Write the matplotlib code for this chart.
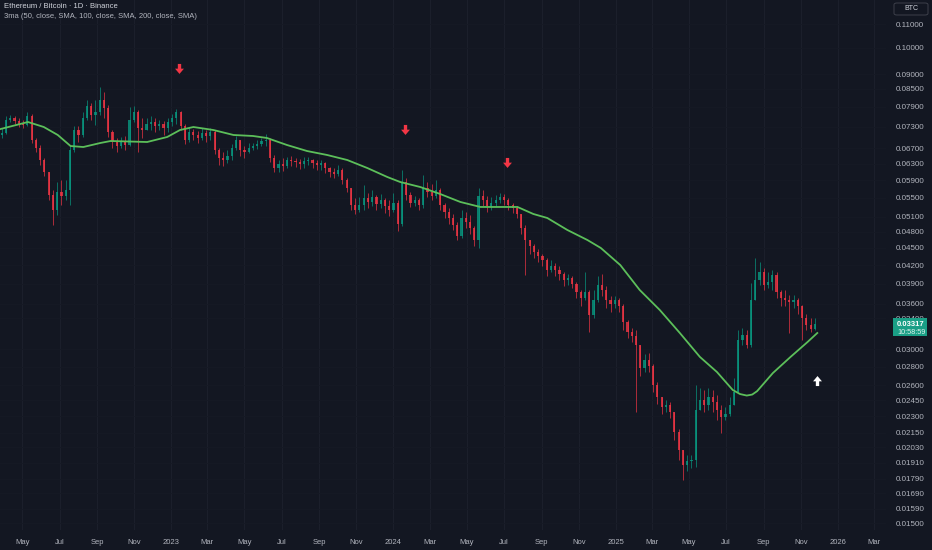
import numpy as np
import pandas as pd
import matplotlib
matplotlib.use("Agg")
import matplotlib.pyplot as plt
from matplotlib.path import Path
from matplotlib.patches import Rectangle, FancyBboxPatch
from matplotlib.ticker import NullLocator

plt.rcParams['font.family'] = ['Liberation Sans', 'DejaVu Sans']

# ETH/BTC, weekly candles (open = previous close)
first_open = 0.0706
closes = [0.0712, 0.0750, 0.0756, 0.0747, 0.0738, 0.0735, 0.0762, 0.0692, 0.0671, 0.0639,
          0.0609, 0.0556, 0.0524, 0.0563, 0.0554, 0.0567, 0.0665, 0.0721, 0.0706, 0.0756,
          0.0793, 0.0765, 0.0774, 0.0812, 0.0787, 0.0715, 0.0687, 0.0676, 0.0690, 0.0679,
          0.0750, 0.0774, 0.0726, 0.0721, 0.0738, 0.0744, 0.0732, 0.0738, 0.0726, 0.0744,
          0.0756, 0.0774, 0.0732, 0.0692, 0.0715, 0.0706, 0.0698, 0.0712, 0.0704, 0.0715,
          0.0665, 0.0644, 0.0639, 0.0650, 0.0671, 0.0692, 0.0665, 0.0660, 0.0671, 0.0676,
          0.0681, 0.0690, 0.0692, 0.0644, 0.0619, 0.0629, 0.0624, 0.0639, 0.0637, 0.0634,
          0.0629, 0.0637, 0.0639, 0.0632, 0.0627, 0.0632, 0.0619, 0.0609, 0.0604, 0.0614,
          0.0590, 0.0572, 0.0534, 0.0524, 0.0534, 0.0549, 0.0541, 0.0551, 0.0536, 0.0545,
          0.0532, 0.0524, 0.0539, 0.0495, 0.0585, 0.0556, 0.0539, 0.0545, 0.0534, 0.0572,
          0.0563, 0.0554, 0.0567, 0.0534, 0.0519, 0.0507, 0.0493, 0.0472, 0.0507, 0.0499,
          0.0487, 0.0464, 0.0554, 0.0545, 0.0532, 0.0539, 0.0545, 0.0551, 0.0545, 0.0534,
          0.0528, 0.0515, 0.0487, 0.0464, 0.0454, 0.0443, 0.0436, 0.0429, 0.0412, 0.0419,
          0.0412, 0.0405, 0.0396, 0.0399, 0.0390, 0.0377, 0.0368, 0.0377, 0.0344, 0.0366,
          0.0388, 0.0380, 0.0366, 0.0360, 0.0366, 0.0357, 0.0335, 0.0322, 0.0317, 0.0305,
          0.0279, 0.0288, 0.0281, 0.0260, 0.0248, 0.0238, 0.0240, 0.0234, 0.0216, 0.0201,
          0.0189, 0.0192, 0.0193, 0.0236, 0.0245, 0.0240, 0.0248, 0.0243, 0.0236, 0.0229,
          0.0232, 0.0240, 0.0253, 0.0312, 0.0318, 0.0305, 0.0366, 0.0396, 0.0409, 0.0388,
          0.0393, 0.0404, 0.0377, 0.0368, 0.0366, 0.0363, 0.0366, 0.0357, 0.0340, 0.0331,
          0.0326, 0.03317]
highs = [0.0726, 0.0762, 0.0765, 0.0762, 0.0756, 0.0750, 0.0774, 0.0768, 0.0698, 0.0679,
         0.0644, 0.0609, 0.0567, 0.0585, 0.0590, 0.0590, 0.0679, 0.0732, 0.0732, 0.0774,
         0.0812, 0.0803, 0.0812, 0.0855, 0.0838, 0.0796, 0.0721, 0.0698, 0.0701, 0.0704,
         0.0790, 0.0793, 0.0780, 0.0756, 0.0756, 0.0762, 0.0756, 0.0750, 0.0747, 0.0756,
         0.0768, 0.0783, 0.0777, 0.0738, 0.0729, 0.0724, 0.0718, 0.0726, 0.0721, 0.0726,
         0.0721, 0.0671, 0.0660, 0.0665, 0.0681, 0.0704, 0.0692, 0.0676, 0.0684, 0.0684,
         0.0692, 0.0698, 0.0709, 0.0698, 0.0652, 0.0639, 0.0644, 0.0647, 0.0650, 0.0644,
         0.0642, 0.0647, 0.0647, 0.0642, 0.0639, 0.0639, 0.0634, 0.0622, 0.0619, 0.0627,
         0.0619, 0.0595, 0.0572, 0.0549, 0.0551, 0.0578, 0.0560, 0.0567, 0.0556, 0.0558,
         0.0549, 0.0545, 0.0560, 0.0545, 0.0614, 0.0595, 0.0563, 0.0554, 0.0549, 0.0602,
         0.0585, 0.0581, 0.0590, 0.0572, 0.0539, 0.0528, 0.0515, 0.0499, 0.0524, 0.0519,
         0.0513, 0.0491, 0.0572, 0.0567, 0.0554, 0.0551, 0.0556, 0.0560, 0.0558, 0.0549,
         0.0539, 0.0532, 0.0515, 0.0493, 0.0464, 0.0457, 0.0448, 0.0439, 0.0432, 0.0429,
         0.0424, 0.0419, 0.0409, 0.0405, 0.0402, 0.0393, 0.0380, 0.0409, 0.0380, 0.0380,
         0.0402, 0.0405, 0.0386, 0.0371, 0.0371, 0.0368, 0.0360, 0.0338, 0.0327, 0.0324,
         0.0305, 0.0295, 0.0296, 0.0283, 0.0264, 0.0248, 0.0245, 0.0243, 0.0234, 0.0218,
         0.0201, 0.0197, 0.0197, 0.0260, 0.0257, 0.0255, 0.0257, 0.0255, 0.0250, 0.0240,
         0.0238, 0.0248, 0.0268, 0.0324, 0.0327, 0.0324, 0.0391, 0.0432, 0.0425, 0.0415,
         0.0409, 0.0412, 0.0409, 0.0380, 0.0380, 0.0373, 0.0373, 0.0368, 0.0358, 0.0345,
         0.0340, 0.0340]
lows = [0.0698, 0.0709, 0.0744, 0.0738, 0.0729, 0.0726, 0.0732, 0.0684, 0.0660, 0.0627,
        0.0600, 0.0545, 0.0493, 0.0513, 0.0534, 0.0545, 0.0534, 0.0660, 0.0687, 0.0701,
        0.0750, 0.0750, 0.0735, 0.0765, 0.0756, 0.0701, 0.0671, 0.0660, 0.0671, 0.0665,
        0.0676, 0.0744, 0.0660, 0.0698, 0.0721, 0.0721, 0.0715, 0.0721, 0.0706, 0.0715,
        0.0732, 0.0738, 0.0721, 0.0681, 0.0687, 0.0692, 0.0684, 0.0692, 0.0687, 0.0692,
        0.0655, 0.0627, 0.0624, 0.0632, 0.0639, 0.0665, 0.0650, 0.0644, 0.0657, 0.0665,
        0.0668, 0.0676, 0.0676, 0.0634, 0.0609, 0.0609, 0.0612, 0.0619, 0.0624, 0.0622,
        0.0617, 0.0619, 0.0627, 0.0619, 0.0614, 0.0614, 0.0607, 0.0597, 0.0595, 0.0600,
        0.0581, 0.0563, 0.0524, 0.0515, 0.0519, 0.0524, 0.0528, 0.0532, 0.0524, 0.0528,
        0.0517, 0.0511, 0.0519, 0.0481, 0.0491, 0.0545, 0.0530, 0.0532, 0.0524, 0.0528,
        0.0551, 0.0545, 0.0549, 0.0524, 0.0507, 0.0495, 0.0483, 0.0464, 0.0468, 0.0487,
        0.0476, 0.0454, 0.0450, 0.0532, 0.0519, 0.0524, 0.0532, 0.0539, 0.0534, 0.0524,
        0.0517, 0.0507, 0.0476, 0.0404, 0.0439, 0.0432, 0.0425, 0.0419, 0.0402, 0.0409,
        0.0402, 0.0396, 0.0387, 0.0388, 0.0384, 0.0368, 0.0357, 0.0366, 0.0322, 0.0340,
        0.0363, 0.0371, 0.0354, 0.0349, 0.0354, 0.0349, 0.0324, 0.0314, 0.0309, 0.0234,
        0.0270, 0.0274, 0.0274, 0.0253, 0.0241, 0.0232, 0.0234, 0.0228, 0.0209, 0.0193,
        0.0178, 0.0185, 0.0187, 0.0188, 0.0236, 0.0234, 0.0236, 0.0234, 0.0226, 0.0215,
        0.0226, 0.0230, 0.0241, 0.0253, 0.0305, 0.0302, 0.0303, 0.0377, 0.0388, 0.0380,
        0.0384, 0.0380, 0.0368, 0.0357, 0.0357, 0.0320, 0.0354, 0.0346, 0.0312, 0.0324,
        0.0322, 0.0324]
week_start = "2022-03-28"

# 200-day SMA
sma_dates = ["2022-03-26", "2022-05-10", "2022-06-05", "2022-06-28", "2022-07-19", "2022-08-09",
             "2022-09-06", "2022-09-23", "2022-11-22", "2022-12-25", "2023-01-15", "2023-02-06",
             "2023-03-11", "2023-04-13", "2023-05-15", "2023-06-07", "2023-07-10", "2023-08-12",
             "2023-09-14", "2023-10-17", "2023-11-19", "2023-12-22", "2024-01-12", "2024-02-14",
             "2024-03-18", "2024-04-20", "2024-05-23", "2024-06-25", "2024-07-23", "2024-08-18",
             "2024-09-10", "2024-10-13", "2024-11-15", "2024-12-07", "2025-01-08", "2025-02-09",
             "2025-03-14", "2025-04-16", "2025-05-19", "2025-06-16", "2025-07-12", "2025-07-24",
             "2025-08-04", "2025-08-13", "2025-08-21", "2025-09-16", "2025-10-15", "2025-11-12",
             "2025-11-28"]
sma_values = [0.07234, 0.07439, 0.07292, 0.07063, 0.06759, 0.06732,
              0.06841, 0.06896, 0.06868, 0.07007, 0.07205, 0.07292,
              0.07205, 0.07063, 0.07035, 0.06979, 0.06786, 0.06625,
              0.06521, 0.06392, 0.06191, 0.05972, 0.05855, 0.05739,
              0.05580, 0.05406, 0.05299, 0.05299, 0.05299, 0.05153,
              0.05071, 0.04834, 0.04644, 0.04499, 0.04203, 0.03804,
              0.03512, 0.03204, 0.02912, 0.02742, 0.02552, 0.02511,
              0.02496, 0.02506, 0.02540, 0.02731, 0.02912, 0.03091,
              0.03204]

# signal arrows
sell_dates = ["2023-01-14", "2024-01-20", "2024-07-06"]
sell_prices = [0.0919, 0.0721, 0.0631]
buy_dates = ["2025-11-27"]
buy_prices = [0.0266]

price_ticks = [0.11, 0.10, 0.09, 0.085, 0.079, 0.073, 0.067, 0.063, 0.059, 0.055,
               0.051, 0.048, 0.045, 0.042, 0.039, 0.036, 0.034, 0.030, 0.028, 0.026,
               0.0245, 0.023, 0.0215, 0.0203, 0.0191, 0.0179, 0.0169, 0.0159, 0.0150]
last_price = 0.03317
countdown = "10:58:59"

BG = '#131722'
UP = '#089981'
DOWN = '#f23645'
TXT = '#b2b5be'

weeks = pd.date_range(week_start, periods=len(closes), freq="7D")
c = np.array(closes)
o = np.concatenate([[first_open], c[:-1]])
h = np.maximum(np.array(highs), np.maximum(o, c))
l = np.minimum(np.array(lows), np.minimum(o, c))
up = c >= o
col = np.where(up, UP, DOWN)

W, H = 932, 550
fig = plt.figure(figsize=(W / 100, H / 100), dpi=100, facecolor=BG)
ax_l, ax_b, ax_w, ax_h = 0, 20 / H, 886 / W, 530 / H
ax = fig.add_axes([ax_l, ax_b, ax_w, ax_h], facecolor=BG)
ax.set_yscale('log')
ymin, ymax = 0.014593, 0.12107
ax.set_ylim(ymin, ymax)
ax.set_xlim(pd.Timestamp("2022-03-25"), pd.Timestamp("2026-03-21"))
for s in ax.spines.values():
    s.set_visible(False)

# grid
months = pd.date_range("2022-05-01", "2026-03-01", freq="2MS")
mlabels = [str(d.year) if d.month == 1 else d.strftime("%b") for d in months]
for d in months:
    ax.axvline(d, color='#1c202c', lw=0.7, zorder=0)
for p in price_ticks:
    ax.axhline(p, color='#161a25', lw=0.6, zorder=0)

# candles
ax.vlines(weeks, l, h, colors=col, lw=0.6, alpha=0.8, zorder=2)
ax.bar(weeks, np.abs(c - o), bottom=np.minimum(o, c), width=3.6, color=col,
       alpha=0.8, linewidth=0, zorder=3)

# sma
ax.plot(pd.to_datetime(sma_dates), sma_values, color='#5cbf5a', lw=1.3, zorder=4)

# arrows
down_arrow = Path([(-0.3, 1), (0.3, 1), (0.3, 0.15), (0.8, 0.15), (0, -0.8),
                   (-0.8, 0.15), (-0.3, 0.15), (-0.3, 1)], closed=True)
up_arrow = Path([(-0.3, -1), (0.3, -1), (0.3, -0.15), (0.8, -0.15), (0, 0.8),
                 (-0.8, -0.15), (-0.3, -0.15), (-0.3, -1)], closed=True)
ax.plot(pd.to_datetime(sell_dates), sell_prices, ls='none', marker=down_arrow,
        markersize=8, color=DOWN, markeredgewidth=0, zorder=5)
ax.plot(pd.to_datetime(buy_dates), buy_prices, ls='none', marker=up_arrow,
        markersize=8, color='white', markeredgewidth=0, zorder=5)

# axes ticks
ax.yaxis.tick_right()
ax.set_yticks(price_ticks)
ax.set_yticklabels([f"{p:.5f}" for p in price_ticks])
ax.yaxis.set_minor_locator(NullLocator())
ax.tick_params(axis='y', length=0, pad=7, labelsize=5.8, labelcolor=TXT)
ax.set_xticks(months)
ax.set_xticklabels(mlabels)
ax.tick_params(axis='x', length=0, pad=6.5, labelsize=5.5, labelcolor=TXT)

# header
fig.text(4 / W, 1 - 7 / H, "Ethereum / Bitcoin · 1D · Binance", color='#d1d4dc',
         fontsize=5.5, va='center', ha='left')
fig.text(4 / W, 1 - 16 / H, "3ma (50, close, SMA, 100, close, SMA, 200, close, SMA)",
         color=TXT, fontsize=5.5, va='center', ha='left')

# currency box
fig.patches.append(FancyBboxPatch((894 / W, 1 - 15 / H), 34 / W, 12 / H,
                                  boxstyle='round,pad=0,rounding_size=0.003',
                                  transform=fig.transFigure, fc=BG, ec='#434651', lw=0.6))
fig.text(911 / W, 1 - 9 / H, "BTC", color='#d1d4dc', fontsize=5, ha='center', va='center')

# last price tag
frac = (np.log(last_price) - np.log(ymin)) / (np.log(ymax) - np.log(ymin))
py = ax_b + frac * ax_h
fig.patches.append(Rectangle((893 / W, py - 12 / H), 34 / W, 18 / H,
                             transform=fig.transFigure, fc='#1a9f86', ec='none'))
fig.text(897 / W, py, f"{last_price:.5f}", color='white', fontsize=5.5,
         fontweight='bold', ha='left', va='center')
fig.text(897 / W, py - 8 / H, countdown, color='#e0f2ee', fontsize=5.2,
         ha='left', va='center')

fig.savefig("out.png", dpi=100, facecolor=BG)
